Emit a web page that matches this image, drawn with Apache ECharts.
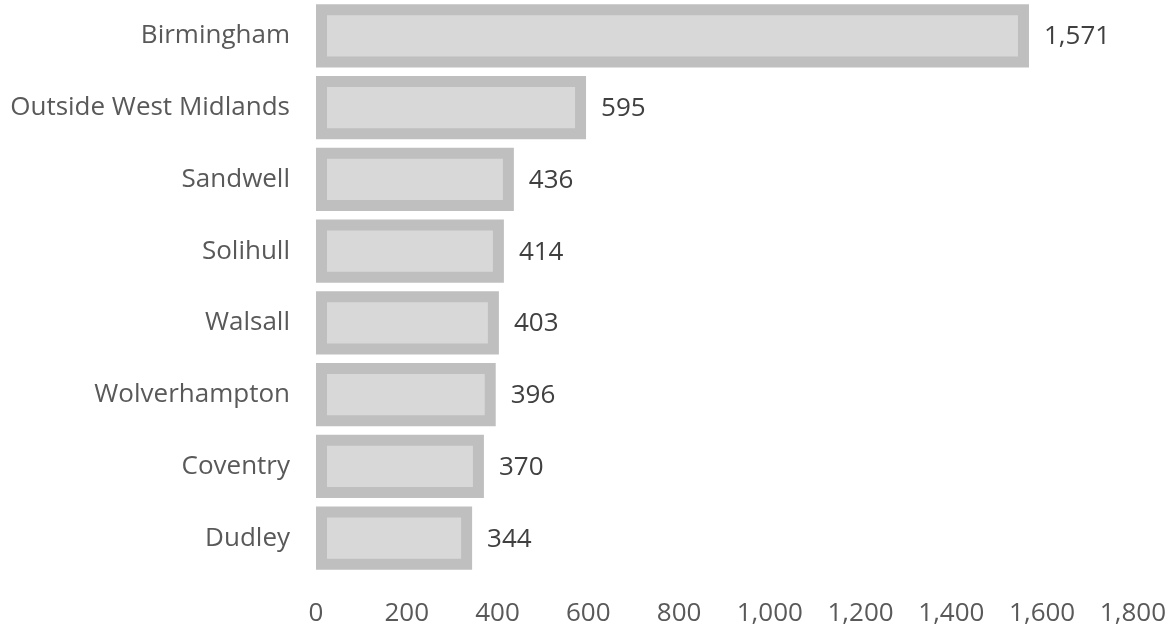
<!DOCTYPE html>
<html>
<head>
<meta charset="utf-8">
<script src="https://cdn.jsdelivr.net/npm/echarts@6/dist/echarts.min.js"></script>
<style>html,body{margin:0;padding:0;background:#fff;}#c{width:1169px;height:627px;}</style>
</head>
<body>
<div id="c"></div>
<script>
const categories = ["Birmingham", "Outside West Midlands", "Sandwell", "Solihull", "Walsall", "Wolverhampton", "Coventry", "Dudley"];
const values = [1571, 595, 436, 414, 403, 396, 370, 344];
const xMin = 0, xMax = 1800, xInterval = 200;

const FONT = '"Open Sans", sans-serif';
const chart = echarts.init(document.getElementById('c'));
chart.setOption({
  animation: false,
  backgroundColor: '#ffffff',
  grid: { left: 316, right: 34, top: -2, bottom: 51, containLabel: false },
  xAxis: {
    type: 'value', min: xMin, max: xMax, interval: xInterval,
    axisLine: { show: false }, axisTick: { show: false }, splitLine: { show: false },
    axisLabel: { color: '#595959', fontSize: 26, fontFamily: FONT, margin: 27,
      formatter: v => v.toLocaleString('en-US') }
  },
  yAxis: {
    type: 'category', data: categories, inverse: true,
    axisLine: { show: false }, axisTick: { show: false },
    axisLabel: { color: '#595959', fontSize: 26, fontFamily: FONT, margin: 26 }
  },
  series: [{
    type: 'custom',
    encode: { x: 1, y: 0 },
    data: values.map((v, i) => [i, v]),
    renderItem: function (params, api) {
      const c = api.value(0), v = api.value(1);
      const p0 = api.coord([0, c]);
      const p1 = api.coord([v, c]);
      const band = api.size([0, 1])[1];
      const h = band * 0.88;
      const b = 11;
      const w = p1[0] - p0[0];
      const y = p0[1] - h / 2;
      return {
        type: 'group',
        children: [
          { type: 'rect', shape: { x: p0[0], y: y, width: w, height: h }, style: { fill: '#bfbfbf' } },
          { type: 'rect', shape: { x: p0[0] + b, y: y + b, width: w - 2 * b, height: h - 2 * b }, style: { fill: '#d8d8d8' } },
          { type: 'text', x: p1[0] + 15, y: p1[1] + 1,
            style: { text: v.toLocaleString('en-US'), fill: '#404040', fontSize: 26, fontFamily: FONT, verticalAlign: 'middle', align: 'left' } }
        ]
      };
    }
  }]
});
</script>
</body>
</html>
